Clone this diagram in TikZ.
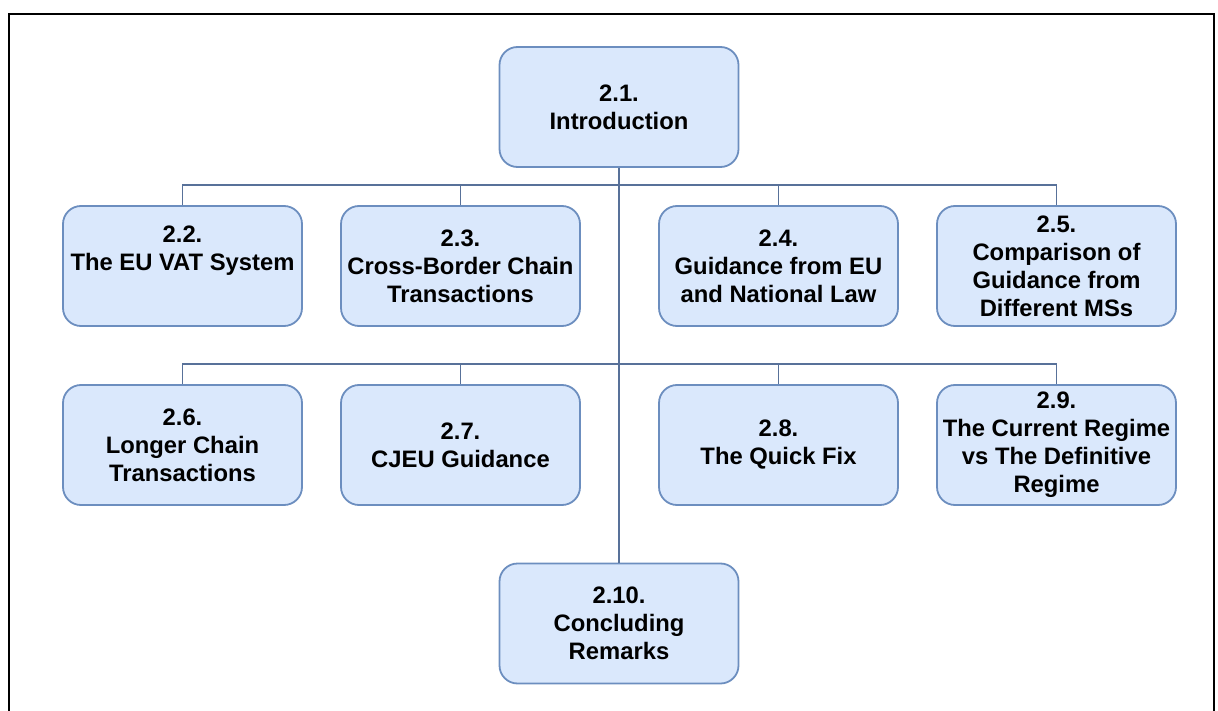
\documentclass[tikz,border=0pt]{standalone}
\usepackage{fontspec}
\setmainfont{Liberation Sans}
\definecolor{boxfill}{HTML}{DAE8FC}
\definecolor{boxline}{HTML}{6C8EBF}
\definecolor{connline}{RGB}{88,113,153}
\begin{document}
\begin{tikzpicture}[x=1pt,y=-1pt,
  section/.style={draw=boxline, fill=boxfill, line width=1.8pt,
    rounded corners=18pt, minimum width=239pt, minimum height=120pt,
    inner sep=0pt, align=center,
    font=\fontsize{23.8}{28}\selectfont\bfseries},
  sectext/.style={inner sep=0pt, align=center,
    font=\fontsize{23.8}{28}\selectfont\bfseries},
  conn/.style={draw=connline, line width=1.6pt},
  frameline/.style={draw=black, line width=2pt}]
  \useasboundingbox (0,0) rectangle (1218,711);
  % outer frame (open at the bottom)
  \draw[frameline] (9,712) -- (9,14.3) -- (1213.5,14.3) -- (1213.5,712);

  % section boxes
  \node[section] (n21) at (619,107) {2.1.\\Introduction};
  \node[section] (n22) at (182.5,266) {};
  \node[sectext] (t22) at ([yshift=15pt]n22.center) {2.2.\\The EU VAT System};
  \node[section] (n23) at (460.5,266) {2.3.\\Cross-Border Chain\\Transactions};
  \node[section] (n24) at (778.5,266) {2.4.\\Guidance from EU\\and National Law};
  \node[section] (n25) at (1056.5,266) {2.5.\\Comparison of\\Guidance from\\Different MSs};
  \node[section] (n26) at (182.5,445) {2.6.\\Longer Chain\\Transactions};
  \node[section] (n27) at (460.5,445) {2.7.\\CJEU Guidance};
  \node[section] (n28) at (778.5,445) {2.8.\\The Quick Fix};
  \node[section] (n29) at (1056.5,445) {2.9.\\The Current Regime\\vs The Definitive\\Regime};
  \node[section] (n210) at (619,623.5) {2.10.\\Concluding\\Remarks};

  % junction points on the stem
  \coordinate (bus1) at (619,185);
  \coordinate (bus2) at (619,364);

  % connectors
  \draw[conn] (n21.south) -- (n210.north);
  \foreach \c in {n22,n23,n24,n25} \draw[conn] (\c.north) |- (bus1);
  \foreach \c in {n26,n27,n28,n29} \draw[conn] (\c.north) |- (bus2);
\end{tikzpicture}
\end{document}
